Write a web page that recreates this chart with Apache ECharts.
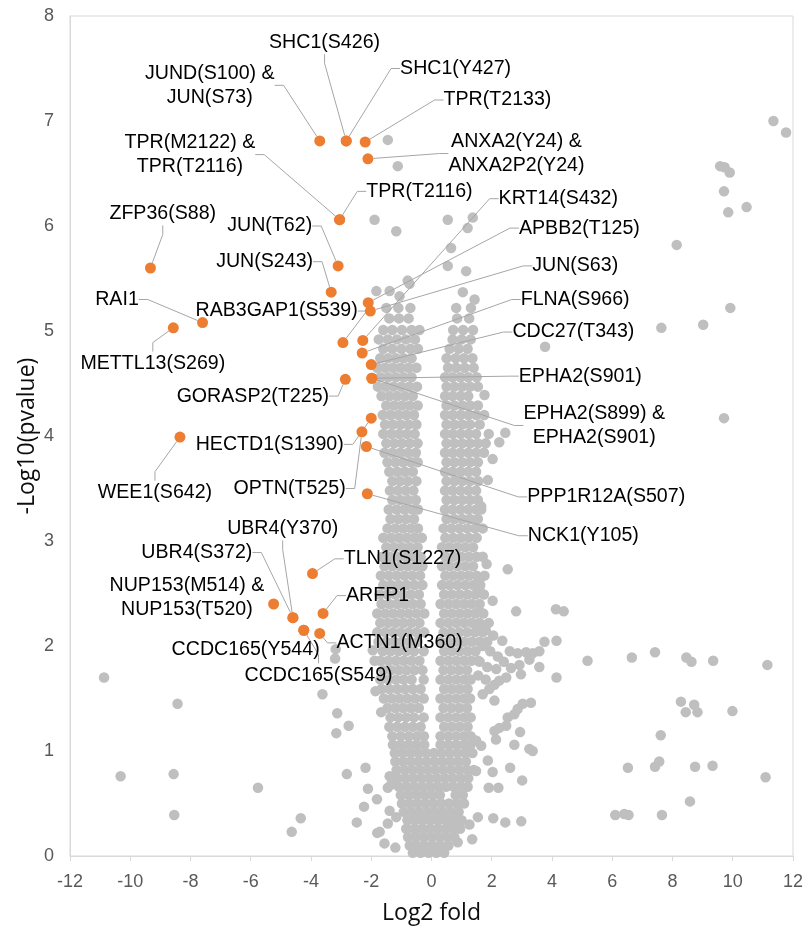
<!DOCTYPE html>
<html>
<head>
<meta charset="utf-8">
<script src="https://cdn.jsdelivr.net/npm/echarts@6/dist/echarts.min.js"></script>
<style>
  html, body { margin: 0; padding: 0; background: #fff; }
  #chart { width: 806px; height: 930px; }
</style>
</head>
<body>
<div id="chart"></div>
<script>
// ---- data ----
// dense cloud, one row per -log10(p) level: [y, x1, x2, ...]
const grayRows = [
  [0.03, -0.62, -0.36, -0.1, 0.16, 0.42],
  [0.10, -0.72, -0.48, -0.22, 0.04, 0.3, 0.56],
  [0.18, -0.78, -0.52, -0.26, 0, 0.26, 0.52, 0.76],
  [0.26, -0.84, -0.58, -0.32, -0.06, 0.2, 0.46, 0.72, 0.95],
  [0.34, -0.8, -0.54, -0.28, -0.02, 0.24, 0.5, 0.76, 1.0],
  [0.42, -0.92, -0.66, -0.4, -0.14, 0.12, 0.38, 0.64, 0.9],
  [0.50, -0.98, -0.72, -0.46, -0.2, 0.06, 0.32, 0.58, 0.84, 1.08],
  [0.58, -1.02, -0.76, -0.5, -0.24, 0.02, 0.28, 0.8, 1.04],
  [0.66, -1.08, -0.82, -0.56, -0.3, -0.04, 0.22, 0.48, 0.74, 1.0, 1.2],
  [0.74, -1.12, -0.86, -0.6, -0.34, -0.08, 0.18, 0.44, 0.7, 0.96, 1.22],
  [0.82, -1.16, -0.9, -0.64, -0.38, -0.12, 0.14, 0.4, 0.66, 0.92, 1.18, 1.4],
  [0.90, -1.2, -0.94, -0.68, -0.42, -0.16, 0.1, 0.36, 0.62, 0.88, 1.14],
  [0.98, -1.22, -0.96, -0.7, -0.44, -0.18, 0.08, 0.34, 0.6, 0.86, 1.12, 1.36],
  [1.06, -1.28, -1.02, -0.76, -0.5, -0.24, 0.3, 0.56, 0.82, 1.08, 1.3],
  [1.14, -1.3, -1.02, -0.75, -0.48, -0.25, 0.3, 0.56, 0.82, 1.08, 1.3],
  [1.23, -1.4, -1.14, -0.88, -0.62, -0.36, 0.42, 0.68, 0.94, 1.2],
  [1.32, -1.36, -1.1, -0.84, -0.58, -0.26, 0.3, 0.56, 0.82, 1.08, 1.3],
  [1.41, -1.46, -1.2, -0.94, -0.68, -0.42, 0.4, 0.66, 0.92, 1.18],
  [1.50, -1.58, -1.32, -1.06, -0.8, -0.54, -0.26, 0.3, 0.56, 0.82, 1.08, 1.28],
  [1.59, -1.66, -1.4, -1.14, -0.88, -0.62, -0.36, 0.42, 0.68, 0.94, 1.2],
  [1.68, -1.7, -1.44, -1.18, -0.92, -0.66, -0.26, 0.3, 0.56, 0.82, 1.08, 1.3],
  [1.77, -1.6, -1.34, -1.08, -0.82, -0.56, -0.3, 0.4, 0.66, 0.92, 1.18],
  [1.86, -1.7, -1.44, -1.18, -0.92, -0.66, -0.4, 0.3, 0.56, 0.82, 1.08, 1.32, 1.55],
  [1.95, -1.62, -1.36, -1.1, -0.84, -0.58, -0.26, 0.42, 0.68, 0.94, 1.2, 1.46],
  [2.04, -1.76, -1.5, -1.24, -0.98, -0.72, -0.46, 0.3, 0.56, 0.82, 1.08, 1.34, 1.6, 1.85],
  [2.13, -1.8, -1.54, -1.28, -1.02, -0.76, -0.5, -0.24, 0.4, 0.66, 0.92, 1.18, 1.44, 1.7],
  [2.22, -1.7, -1.44, -1.18, -0.92, -0.66, -0.4, 0.3, 0.56, 0.82, 1.08, 1.34, 1.6, 1.9],
  [2.31, -1.8, -1.54, -1.28, -1.02, -0.76, -0.5, -0.24, 0.42, 0.68, 0.94, 1.2, 1.46, 1.72],
  [2.40, -1.66, -1.4, -1.14, -0.88, -0.62, -0.36, 0.3, 0.56, 0.82, 1.08, 1.34, 1.6],
  [2.49, -1.72, -1.46, -1.2, -0.94, -0.68, -0.42, 0.42, 0.68, 0.94, 1.2, 1.46, 1.74],
  [2.58, -1.6, -1.34, -1.08, -0.82, -0.56, -0.3, 0.35, 0.6, 0.86, 1.12, 1.38, 1.62],
  [2.67, -1.68, -1.42, -1.16, -0.9, -0.64, -0.38, 0.46, 0.72, 0.98, 1.24, 1.5, 1.76],
  [2.76, -1.56, -1.3, -1.04, -0.78, -0.52, -0.3, 0.35, 0.6, 0.86, 1.12, 1.38],
  [2.85, -1.64, -1.38, -1.12, -0.86, -0.6, -0.36, 0.46, 0.72, 0.98, 1.24, 1.5, 1.7],
  [2.94, -1.5, -1.24, -0.98, -0.72, -0.46, 0.35, 0.6, 0.86, 1.12, 1.38],
  [3.03, -1.6, -1.34, -1.08, -0.82, -0.56, -0.32, 0.46, 0.72, 0.98, 1.24, 1.5],
  [3.12, -1.46, -1.2, -0.94, -0.68, -0.45, 0.4, 0.66, 0.92, 1.18, 1.44, 1.7],
  [3.21, -1.36, -1.1, -0.84, -0.58, 0.5, 0.76, 1.02, 1.28, 1.54],
  [3.30, -1.42, -1.16, -0.9, -0.64, -0.45, 0.45, 0.7, 0.96, 1.22, 1.48, 1.65],
  [3.39, -1.3, -1.04, -0.78, -0.52, 0.5, 0.76, 1.02, 1.28, 1.54],
  [3.48, -1.38, -1.12, -0.86, -0.6, 0.45, 0.7, 0.96, 1.22, 1.48],
  [3.57, -1.3, -1.04, -0.78, -0.5, 0.5, 0.76, 1.02, 1.28, 1.55],
  [3.66, -1.4, -1.14, -0.88, -0.62, 0.45, 0.7, 0.96, 1.22, 1.48],
  [3.75, -1.46, -1.2, -0.94, -0.68, -0.46, 0.5, 0.76, 1.02, 1.28, 1.54],
  [3.84, -1.56, -1.3, -1.04, -0.78, -0.52, 0.45, 0.7, 0.96, 1.22, 1.48, 1.74],
  [3.93, -1.5, -1.24, -0.98, -0.72, -0.46, 0.5, 0.76, 1.02, 1.28, 1.54, 1.8],
  [4.02, -1.6, -1.34, -1.08, -0.82, -0.56, 0.45, 0.7, 0.96, 1.22, 1.48, 1.9],
  [4.11, -1.54, -1.28, -1.02, -0.76, -0.5, 0.5, 0.76, 1.02, 1.28, 1.6],
  [4.20, -1.62, -1.36, -1.1, -0.84, -0.58, 0.45, 0.7, 0.96, 1.22, 1.48, 1.75],
  [4.29, -1.5, -1.24, -0.98, -0.72, -0.46, 0.5, 0.76, 1.02, 1.28, 1.54],
  [4.38, -1.66, -1.4, -1.14, -0.88, -0.62, 0.45, 0.7, 0.96, 1.22],
  [4.47, -1.78, -1.52, -1.26, -1.0, -0.74, -0.48, 0.5, 0.76, 1.02, 1.28, 1.54],
  [4.56, -1.7, -1.44, -1.18, -0.92, -0.66, 0.45, 0.7, 0.96, 1.22, 1.5],
  [4.65, -1.8, -1.54, -1.28, -1.02, -0.76, -0.5, 0.55, 0.82, 1.1, 1.4],
  [4.74, -1.7, -1.44, -1.18, -0.92, -0.66, 0.5, 0.8, 1.08, 1.36],
  [4.83, -1.6, -1.3, -1.0, -0.7, -0.45, 0.6, 0.9, 1.2],
  [4.92, -1.75, -1.45, -1.15, -0.85, -0.55, 0.7, 1.0, 1.3],
  [5.01, -1.6, -1.3, -0.98, -0.66, -0.4, 0.72, 1.05, 1.38],
  [5.12, -1.4, -1.08, -0.76, 0.85, 1.25],
  [5.22, -1.5, -1.1, -0.7, 0.82, 1.31]
];

// scattered grey sites outside the dense cloud: [log2 fold, -log10 p]
const grayLoose = [
  [-1.45, 6.82], [-1.12, 6.57], [-1.89, 6.06], [-1.17, 5.95], [0.54, 6.06], [1.37, 6.08],
  [1.2, 5.98], [0.65, 5.79], [0.54, 5.62], [1.15, 5.57], [-0.79, 5.48], [1.04, 5.37],
  [-1.83, 5.38], [-1.39, 5.38], [-1.06, 5.33], [-0.73, 5.45], [1.43, 5.3],
  [11.35, 7.0], [11.77, 6.89], [9.58, 6.57], [9.73, 6.56], [9.9, 6.51], [9.71, 6.33],
  [9.85, 6.13], [10.46, 6.18], [8.14, 5.82], [9.92, 5.22], [9.02, 5.06], [7.63, 5.03],
  [9.71, 4.17], [3.77, 4.85],
  [1.76, 4.39], [2.45, 4.03], [2.25, 3.94], [2.03, 3.78], [1.87, 3.58], [1.65, 3.33],
  [2.53, 2.73], [1.83, 2.78], [1.59, 2.54], [1.59, 2.63], [2.03, 2.43], [2.81, 2.33],
  [4.13, 2.35], [4.39, 2.33], [1.59, 2.33],
  [3.75, 2.04], [4.15, 2.05], [5.18, 1.86], [6.65, 1.89], [7.42, 1.94], [8.46, 1.89],
  [8.63, 1.85], [9.35, 1.86], [11.15, 1.82], [4.15, 1.7],
  [3.14, 1.94], [3.58, 1.95], [3.36, 1.93], [3.25, 1.87], [3.58, 1.8], [2.86, 1.93],
  [2.92, 1.82], [2.64, 1.79], [2.97, 1.73], [2.48, 1.7], [2.25, 1.67], [2.09, 1.63],
  [1.92, 1.59], [1.7, 1.54], [2.09, 1.48], [3.03, 1.45], [3.3, 1.46], [2.86, 1.4],
  [2.75, 1.35], [2.53, 1.32], [2.48, 1.24], [2.25, 1.22], [2.09, 1.19], [2.94, 1.18],
  [2.14, 1.11], [2.75, 1.06], [3.25, 1.02], [3.36, 1.0], [1.48, 1.1], [1.65, 1.05],
  [1.87, 0.91], [1.48, 0.81], [2.03, 0.8], [2.61, 0.84], [3.01, 0.72], [1.9, 0.65],
  [2.22, 0.65], [1.54, 0.37], [2.05, 0.36], [2.45, 0.32], [2.98, 0.33], [1.26, 0.3],
  [1.35, 0.16], [0.87, 0.13], [0.71, 0.31],
  [1.55, 2.2], [1.8, 2.15], [2.05, 2.1], [1.7, 2.0], [1.95, 1.95], [2.2, 1.9],
  [1.6, 1.85], [1.85, 1.8], [2.15, 1.78], [2.4, 1.85], [1.55, 1.72], [1.8, 1.68],
  [2.6, 1.95], [2.35, 2.05],
  [6.1, 0.39], [6.4, 0.4], [6.54, 0.39], [7.65, 0.39], [8.58, 0.52], [11.09, 0.75],
  [6.52, 0.84], [7.42, 0.85], [7.56, 0.9], [8.75, 0.85], [9.33, 0.86], [7.61, 1.15],
  [8.28, 1.47], [8.72, 1.44], [8.44, 1.37], [8.83, 1.37], [9.99, 1.38],
  [-3.2, 1.88], [-3.18, 1.97], [-3.62, 1.54], [-3.13, 1.36], [-2.75, 1.24], [-3.16, 1.17],
  [-1.86, 1.57], [-1.67, 1.37], [-2.19, 0.84], [-2.81, 0.78], [-2.11, 0.64], [-2.24, 0.47],
  [-1.81, 0.54], [-2.48, 0.32], [-1.8, 0.22], [-1.56, 0.12], [-1.2, 0.08], [-1.45, 0.65],
  [-1.39, 0.76], [-1.89, 1.86], [-1.95, 1.96], [-1.34, 0.68], [-1.39, 0.43], [-1.17, 0.37],
  [-1.45, 0.31], [-1.72, 0.23],
  [-10.87, 1.7], [-8.43, 1.45], [-10.32, 0.76], [-8.56, 0.78], [-5.76, 0.65], [-8.54, 0.39],
  [-4.34, 0.36], [-4.64, 0.23]
];

// highlighted (orange) sites
const hitNames = [
  'JUND(S100) &\nJUN(S73)', 'SHC1(S426)', 'SHC1(Y427)', 'TPR(T2133)', 'ANXA2(Y24) &\nANXA2P2(Y24)',
  'TPR(M2122) &\nTPR(T2116)', 'TPR(T2116)', 'ZFP36(S88)', 'JUN(T62)', 'JUN(S243)',
  'APBB2(T125)', 'JUN(S63)', 'RAI1', 'METTL13(S269)', 'RAB3GAP1(S539)',
  'KRT14(S432)', 'FLNA(S966)', 'CDC27(T343)', 'EPHA2(S901)', 'EPHA2(S899) &\nEPHA2(S901)',
  'GORASP2(T225)', 'HECTD1(S1390)', 'OPTN(T525)', 'PPP1R12A(S507)', 'NCK1(Y105)',
  'WEE1(S642)', 'TLN1(S1227)', 'NUP153(M514) &\nNUP153(T520)', 'UBR4(Y370)', 'UBR4(S372)',
  'ARFP1', 'CCDC165(Y544)', 'CCDC165(S549)', 'ACTN1(M360)'
];
const hitX = [-3.71, -2.83, -2.83, -2.2, -2.11, -3.05, -3.05, -9.33, -3.1, -3.33,
  -2.1, -2.03, -7.6, -8.57, -2.94, -2.28, -2.3, -2.0, -1.98, -1.98,
  -2.86, -2.0, -2.31, -2.16, -2.13, -8.35, -3.95, -5.24, -4.6, -4.6,
  -3.6, -4.24, -4.24, -3.71];
const hitY = [6.81, 6.81, 6.81, 6.8, 6.64, 6.06, 6.06, 5.6, 5.62, 5.37,
  5.27, 5.19, 5.08, 5.03, 4.89, 4.91, 4.79, 4.68, 4.55, 4.55,
  4.54, 4.17, 4.04, 3.9, 3.45, 3.99, 2.69, 2.4, 2.27, 2.27,
  2.31, 2.15, 2.15, 2.12];

// ---- layout of the callouts (label centres, in axis units) ----
const labelAtX = [-7.36, -3.55, 0.8, 2.19, 2.82, -8.02, -0.4, -8.92, -5.37, -5.54,
  4.91, 4.77, -10.44, -9.25, -5.14, 4.21, 4.77, 4.71, 4.94, 5.4,
  -5.93, -5.37, -4.71, 5.8, 5.04, -9.18, -0.96, -8.12, -4.94, -7.79,
  -1.79, -6.17, -3.75, -1.06];
const labelAtY = [7.34, 7.75, 7.5, 7.2, 6.69, 6.68, 6.33, 6.12, 6.0, 5.66,
  5.98, 5.62, 5.3, 4.69, 5.19, 6.26, 5.3, 4.99, 4.57, 4.1,
  4.38, 3.92, 3.5, 3.42, 3.05, 3.46, 2.83, 2.46, 3.12, 2.89,
  2.48, 1.97, 1.72, 2.03];
const noLine = [27, 31];

const chart = echarts.init(document.getElementById('chart'));

const grayData = [];
grayRows.forEach(r => { for (let i = 1; i < r.length; i++) grayData.push([r[i], r[0]]); });
grayLoose.forEach(p => grayData.push(p));

const hitData = hitNames.map((n, i) => {
  const d = { name: n, value: [hitX[i], hitY[i]] };
  if (noLine.indexOf(i) >= 0) d.labelLine = { show: false };
  return d;
});

const sans = '"Liberation Sans", Arial, sans-serif';
const titleFont = '"Open Sans", "Noto Sans", sans-serif';

chart.setOption({
  animation: false,
  grid: { left: 70, right: 12, top: 16, bottom: 71, show: true, borderColor: '#d9d9d9', borderWidth: 1 },
  xAxis: {
    type: 'value', min: -12, max: 12, interval: 2,
    name: 'Log2 fold', nameLocation: 'middle', nameGap: 46,
    nameTextStyle: { color: '#0d0d0d', fontSize: 23, fontFamily: titleFont },
    axisLine: { onZero: false, lineStyle: { color: '#d9d9d9' } },
    axisTick: { show: true, length: 5, lineStyle: { color: '#d9d9d9' } },
    axisLabel: { color: '#595959', fontSize: 18, margin: 17, fontFamily: sans },
    splitLine: { show: false }
  },
  yAxis: {
    type: 'value', min: 0, max: 8, interval: 1,
    name: '-Log10(pvalue)', nameLocation: 'middle', nameGap: 31, nameMoveOverlap: false,
    nameTextStyle: { color: '#0d0d0d', fontSize: 23, fontFamily: titleFont },
    axisLine: { show: true, onZero: false, lineStyle: { color: '#d9d9d9' } },
    axisTick: { show: false },
    axisLabel: { color: '#595959', fontSize: 18, margin: 16, fontFamily: sans },
    splitLine: { show: false }
  },
  series: [
    {
      type: 'scatter', data: grayData, symbolSize: 10.5, silent: true, z: 2,
      itemStyle: { color: '#bfbfbf', opacity: 1 }
    },
    {
      type: 'scatter', data: hitData, symbolSize: 11, silent: true, z: 3,
      itemStyle: { color: '#ed7d31', opacity: 1 },
      label: {
        show: true, formatter: '{b}', color: '#000', fontSize: 19.6, lineHeight: 24,
        fontFamily: sans, align: 'center'
      },
      labelLine: { show: true, length2: 9, lineStyle: { color: '#a6a6a6', width: 1 } },
      labelLayout: p => {
        const i = p.dataIndex;
        const pt = chart.convertToPixel({ gridIndex: 0 }, [labelAtX[i], labelAtY[i]]);
        return { x: pt[0], y: pt[1], align: 'center', verticalAlign: 'middle' };
      }
    }
  ]
});
</script>
</body>
</html>
